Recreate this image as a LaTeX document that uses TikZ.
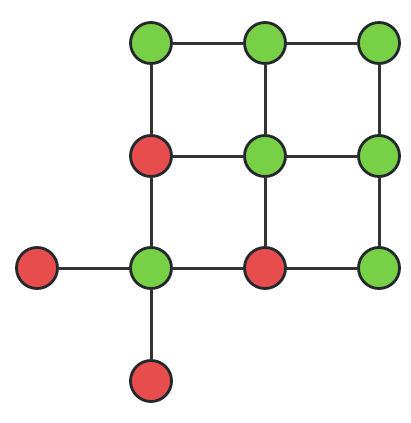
\documentclass[tikz,border=0pt]{standalone}
\usetikzlibrary{positioning}
\definecolor{ok}{HTML}{77D046}
\definecolor{bad}{HTML}{E84D4D}
\definecolor{rim}{HTML}{23282C}
\definecolor{wire}{HTML}{333333}
\begin{document}
\begin{tikzpicture}[x=1pt,y=1pt, line join=round, line cap=round,
	dot/.style={circle, draw=rim, line width=2.8pt, minimum size=41pt, inner sep=0pt},
	good/.style={dot, fill=ok},
	fail/.style={dot, fill=bad}]
	\useasboundingbox (0,0) rectangle (410,-423);
	% top row
	\node[good] (a1) at (151,-43) {};
	\node[good] (a2) at (265,-43) {};
	\node[good] (a3) at (379,-43) {};
	% second row
	\node[fail] (b1) at (151,-156) {};
	\node[good] (b2) at (265,-156) {};
	\node[good] (b3) at (379,-156) {};
	% third row
	\node[fail] (c0) at (37,-268) {};
	\node[good] (c1) at (151,-268) {};
	\node[fail] (c2) at (265,-268) {};
	\node[good] (c3) at (379,-268) {};
	% bottom
	\node[fail] (d1) at (151,-381) {};
	\begin{scope}[wire, line width=3pt]
		\draw (a1)--(a2) (a2)--(a3);
		\draw (b1)--(b2) (b2)--(b3);
		\draw (c0)--(c1) (c1)--(c2) (c2)--(c3);
		\draw (a1)--(b1) (b1)--(c1) (c1)--(d1);
		\draw (a2)--(b2) (b2)--(c2);
		\draw (a3)--(b3) (b3)--(c3);
	\end{scope}
\end{tikzpicture}
\end{document}
